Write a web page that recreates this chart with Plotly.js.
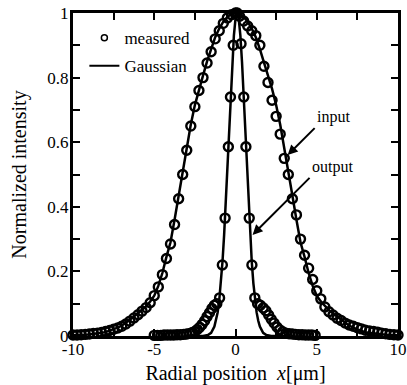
<!DOCTYPE html>
<html>
<head>
<meta charset="utf-8">
<script src="https://cdn.plot.ly/plotly-3.0.1.min.js"></script>
<style>html,body{margin:0;padding:0;background:#fff;}#chart{width:407px;height:385px;}</style>
</head>
<body>
<div id="chart"></div>
<script>
// Input beam (step 0.25 um)
const xIn = [-10,-9.75,-9.5,-9.25,-9,-8.75,-8.5,-8.25,-8,-7.75,-7.5,-7.25,-7,-6.75,-6.5,-6.25,-6,-5.75,-5.5,-5.25,-5,-4.75,-4.5,-4.25,-4,-3.75,-3.5,-3.25,-3,-2.75,-2.5,-2.25,-2,-1.75,-1.5,-1.25,-1,-0.75,-0.5,-0.25,0,0.25,0.5,0.75,1,1.25,1.5,1.75,2,2.25,2.5,2.75,3,3.25,3.5,3.75,4,4.25,4.5,4.75,5,5.25,5.5,5.75,6,6.25,6.5,6.75,7,7.25,7.5,7.75,8,8.25,8.5,8.75,9,9.25,9.5,9.75,10];
const yInMeasured = [0.003,0.003,0.004,0.005,0.006,0.008,0.009,0.011,0.014,0.017,0.021,0.025,0.03,0.037,0.046,0.056,0.066,0.077,0.088,0.103,0.125,0.152,0.19,0.24,0.285,0.345,0.425,0.5,0.575,0.65,0.71,0.76,0.8,0.845,0.88,0.92,0.945,0.968,0.985,0.995,1.0,0.99,0.975,0.96,0.945,0.93,0.9,0.835,0.785,0.73,0.68,0.625,0.55,0.5,0.425,0.375,0.3,0.25,0.21,0.175,0.14,0.115,0.09,0.075,0.065,0.055,0.048,0.04,0.034,0.03,0.026,0.022,0.018,0.016,0.014,0.012,0.009,0.007,0.005,0.004,0.003];
const yInFit = [0.002,0.002,0.003,0.004,0.005,0.006,0.008,0.01,0.012,0.016,0.02,0.026,0.032,0.04,0.05,0.06,0.07,0.08,0.092,0.107,0.125,0.155,0.195,0.245,0.29,0.36,0.435,0.51,0.585,0.655,0.715,0.765,0.806,0.85,0.888,0.925,0.952,0.973,0.988,0.997,1.0,0.997,0.988,0.973,0.952,0.925,0.888,0.85,0.806,0.765,0.715,0.655,0.585,0.51,0.435,0.36,0.29,0.245,0.195,0.155,0.125,0.107,0.092,0.08,0.07,0.06,0.05,0.04,0.032,0.026,0.02,0.016,0.012,0.01,0.008,0.006,0.005,0.004,0.003,0.002,0.002];

// Output beam
const xOut = [-5.0,-4.8,-4.6,-4.4,-4.2,-4.0,-3.8,-3.6,-3.4,-3.2,-3.0,-2.8,-2.65,-2.5,-2.35,-2.2,-2.05,-1.9,-1.75,-1.6,-1.45,-1.3,-1.15,-0.98,-0.81,-0.64,-0.44,-0.31,-0.14,0.1,0.34,0.51,0.64,0.845,1.01,1.19,1.36,1.53,1.7,1.87,2.04,2.2,2.37,2.55,2.72,2.9,3.1,3.3,3.5,3.7,3.9,4.1,4.3,4.5,4.7,4.9];
const yOutMeasured = [0.002,0.002,0.002,0.003,0.003,0.003,0.003,0.004,0.004,0.005,0.006,0.008,0.011,0.014,0.02,0.027,0.036,0.047,0.06,0.072,0.085,0.095,0.1,0.118,0.22,0.365,0.586,0.74,0.9,1.0,0.905,0.74,0.586,0.365,0.22,0.118,0.1,0.095,0.087,0.078,0.065,0.052,0.04,0.028,0.019,0.013,0.009,0.007,0.006,0.005,0.004,0.004,0.003,0.003,0.003,0.002];
const xOutFit = [-3.0,-2.0,-1.7,-1.5,-1.3,-1.2,-1.1,-1.0,-0.9,-0.8,-0.7,-0.6,-0.5,-0.4,-0.3,-0.2,-0.1,0.0,0.1,0.2,0.3,0.4,0.5,0.6,0.7,0.8,0.9,1.0,1.1,1.2,1.3,1.4,1.5,1.7,1.9,2.2,3.2];
const yOutFit = [0,0.0003,0.0028,0.0096,0.029,0.047,0.073,0.111,0.163,0.230,0.313,0.411,0.520,0.635,0.748,0.849,0.930,0.982,1.0,0.982,0.930,0.849,0.748,0.635,0.520,0.411,0.313,0.230,0.163,0.111,0.073,0.047,0.029,0.0096,0.0028,0.0003,0];

// Ticks
const xTickVals = [-10,-7.5,-5,-2.5,0,2.5,5,7.5,10];
const xTickText = ['-10','','-5','','0','','5','','10'];
const yTickVals = [0,0.1,0.2,0.3,0.4,0.5,0.6,0.7,0.8,0.9,1];
const yTickText = ['0','','0.2','','0.4','','0.6','','0.8','','1'];

const FONT = 'Liberation Serif, Times New Roman, serif';
const circ = {symbol:'circle-open', size:9, color:'#000', line:{width:2.4, color:'#000'}};

const traces = [
  {x:xIn, y:yInFit, mode:'lines', line:{color:'#000', width:2.5}, showlegend:false, cliponaxis:false},
  {x:xOut, y:yOutMeasured, mode:'markers', marker:circ, showlegend:false, cliponaxis:false},
  {x:xOutFit, y:yOutFit, mode:'lines', line:{color:'#000', width:2.5}, showlegend:false, cliponaxis:true},
  {x:xIn, y:yInMeasured, mode:'markers', marker:circ, showlegend:false, cliponaxis:false},
  {x:[null], y:[null], mode:'markers', marker:{symbol:'circle-open', size:6, color:'#000', line:{width:1.5, color:'#000'}}, name:'measured', legendgroup:'a'},
  {x:[null], y:[null], mode:'lines', line:{color:'#000', width:2}, name:'Gaussian', legendgroup:'b'}
];

const axisCommon = {
  showline:true, linecolor:'#000', linewidth:3, mirror:'ticks',
  ticks:'inside', ticklen:7, tickwidth:2, tickcolor:'#000',
  showgrid:false, zeroline:false, tickmode:'array',
  tickfont:{family:FONT, size:17, color:'#000'}
};

const layout = {
  width:407, height:385,
  margin:{l:73, r:9, t:13, b:49},
  paper_bgcolor:'#fff', plot_bgcolor:'#fff',
  font:{family:FONT, color:'#000'},
  xaxis:Object.assign({}, axisCommon, {
    range:[-10,10], tickvals:xTickVals, ticktext:xTickText, ticklabelstandoff:-4,
    title:{text:'Radial position  <i>x</i>[μm]', font:{family:FONT, size:20, color:'#000'}, standoff:8}
  }),
  yaxis:Object.assign({}, axisCommon, {
    range:[0,1], tickvals:yTickVals, ticktext:yTickText, ticklabelstandoff:-2,
    title:{text:'Normalized intensity', font:{family:FONT, size:20, color:'#000'}, standoff:16}
  }),
  legend:{x:0.035, y:0.978, xanchor:'left', yanchor:'top', bgcolor:'rgba(0,0,0,0)',
    font:{family:FONT, size:17, color:'#000'}, itemwidth:30, traceorder:'grouped', tracegroupgap:3},
  annotations:[
    {x:3.21, y:0.56, xref:'x', yref:'y', ax:27, ay:-27, text:'input', showarrow:true,
     arrowhead:2, arrowsize:1, arrowwidth:2, arrowcolor:'#000', xanchor:'left', yanchor:'bottom',
     font:{family:FONT, size:16, color:'#000'}},
    {x:1.05, y:0.313, xref:'x', yref:'y', ax:57, ay:-57, text:'output', showarrow:true,
     arrowhead:2, arrowsize:1, arrowwidth:2, arrowcolor:'#000', xanchor:'left', yanchor:'bottom',
     font:{family:FONT, size:16, color:'#000'}}
  ],
  showlegend:true
};

Plotly.newPlot('chart', traces, layout, {displayModeBar:false, staticPlot:true});
</script>
</body>
</html>
